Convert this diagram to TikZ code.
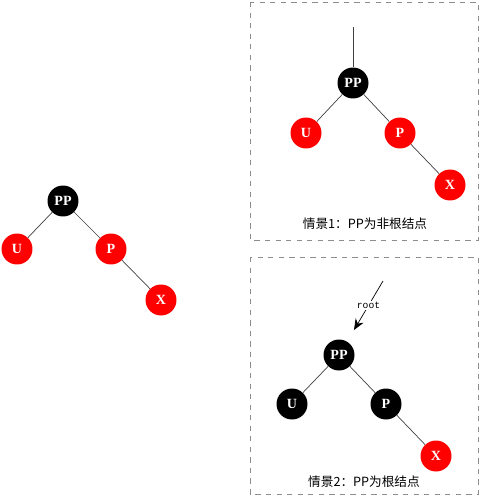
\documentclass[tikz,border=0pt]{standalone}
\usepackage{fontspec}
\newfontfamily\cjk{Noto Sans CJK SC}
\newfontfamily\lbl{Liberation Serif}
\newfontfamily\mono{Liberation Mono}
\usetikzlibrary{arrows.meta}
\begin{document}
\begin{tikzpicture}[x=0.02cm,y=-0.02cm,
	blk/.style={circle,fill=black,minimum size=0.62cm,inner sep=0pt,text=white,font=\lbl\bfseries\fontsize{8}{9}\selectfont},
	red/.style={blk,fill=red},
	edge/.style={draw=black!75,line width=0.4pt},
	frame/.style={draw=black!45,dashed,line width=0.5pt},
	caption/.style={font=\cjk\fontsize{7.2}{8}\selectfont}]
			\useasboundingbox (0,0) rectangle (481,497);
			\node[blk] (PP) at (63,201) {PP};
			\node[red] (U) at (17,249) {U};
			\node[red] (P) at (111,249) {P};
			\node[red] (X) at (161,300) {X};
			\draw[edge] (PP) -- (U);
			\draw[edge] (PP) -- (P);
			\draw[edge] (P) -- (X);
			\draw[frame] (250,2) rectangle (478,240);
			\path (353,27) coordinate (up);
			\node[blk] (PPa) at (353,83) {PP};
			\node[red] (Ua) at (306,133) {U};
			\node[red] (Pa) at (400,133) {P};
			\node[red] (Xa) at (450,185) {X};
			\draw[edge] (up) -- (PPa);
			\draw[edge] (PPa) -- (Ua);
			\draw[edge] (PPa) -- (Pa);
			\draw[edge] (Pa) -- (Xa);
			\node[caption] (capa) at (365,224) {情景1：PP为非根结点};
			\draw[frame] (250,257) rectangle (478,494);
			\path (383,281) coordinate (rs);
			\path (354,330) coordinate (re);
			\node[blk] (PPb) at (339,355) {PP};
			\node[blk] (Ub) at (292,404) {U};
			\node[blk] (Pb) at (386,404) {P};
			\node[red] (Xb) at (436,456) {X};
			\draw[edge,draw=black,-{Stealth[length=2.2mm,width=1.8mm]}] (rs) -- node[fill=white,inner sep=0.5pt,font=\mono\fontsize{5.5}{6}\selectfont] {root} (re);
			\draw[edge] (PPb) -- (Ub);
			\draw[edge] (PPb) -- (Pb);
			\draw[edge] (Pb) -- (Xb);
			\node[caption] (capb) at (364,482) {情景2：PP为根结点};
		\end{tikzpicture}
\end{document}
